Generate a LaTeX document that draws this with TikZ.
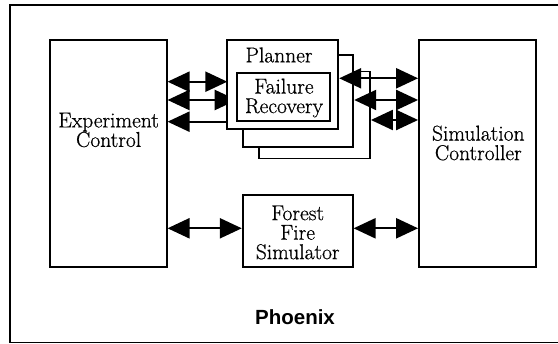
\documentclass[tikz,border=0pt]{standalone}
\usepackage{fontspec}
\newfontfamily\headfont{Liberation Sans}
\newfontfamily\lblfont{Latin Modern Roman}[FakeBold=0.6]
\usetikzlibrary{arrows.meta}
\begin{document}
\begin{tikzpicture}[x=1pt,y=-1pt,
  box/.style={draw, line width=1.8pt, fill=white, inner sep=0pt},
  lbl/.style={font=\lblfont\fontsize{21.5}{19.5}\selectfont, align=center, inner sep=0pt},
  link/.style={line width=2.3pt},
  head/.tip={Triangle[length=22pt,width=20pt]},
  both/.style={link, head-head},
  tohead/.style={link, -head}]
\useasboundingbox (0,0) rectangle (558,344);

% outer frame (right side runs off the page)
\draw[line width=1.8pt] (560,5) -- (10,5) -- (10,342.5) -- (560,342.5);

% main blocks
\node[box, minimum width=116.7pt, minimum height=227pt] (exp) at (108.3,153.5) {};
\node[box, minimum width=117pt, minimum height=227pt] (sim) at (477.5,153.5) {};
\node[box, minimum width=110pt, minimum height=72.3pt] (fire) at (297.7,231.2) {};

% stacked planner copies, back to front
\node[box, minimum width=110.7pt, minimum height=87pt] (plan3) at (314.7,115.1) {};
\node[box, minimum width=110.6pt, minimum height=92pt] (plan2) at (298,101) {};

% links from Experiment Control into the planner
\draw[both] (exp.east |- 0,81.7) -- (227.3,81.7) coordinate (pw1);
\draw[both] (exp.east |- 0,100) -- (236.7,100) coordinate (frw);
\draw[tohead] (227.3,121.7) coordinate (pw3) -- (exp.east |- 0,121.7);

% front planner with its failure recovery module
\node[box, minimum width=111pt, minimum height=89.3pt] (plan1) at (282.8,84.7) {};
\node[box, minimum width=93.3pt, minimum height=48pt] (fr) at (283.3,96.7) {};

% links from the planners to the Simulation Controller
\draw[both] (plan1.east |- 0,78.3) -- (sim.west |- 0,78.3);
\draw[both] (plan2.east |- 0,100) -- (sim.west |- 0,100);
\draw[both] (plan3.east |- 0,120) -- (sim.west |- 0,120);

% forest fire simulator links
\draw[both] (exp.east |- 0,228.3) -- (fire.west |- 0,228.3);
\draw[both] (fire.east |- 0,228.3) -- (sim.west |- 0,228.3);

% labels
\node[lbl] (texp) at (108.6,130) {Experiment\\Control};
\node[lbl] (tsim) at (478.3,143) {Simulation\\Controller};
\node[lbl] (tplan) at (279,55) {Planner};
\node[lbl] (tfr) at (284,98) {Failure\\Recovery};
\node[lbl] (tfire) at (297.7,232.5) {Forest\\Fire\\Simulator};
\node[anchor=base, inner sep=0pt, font=\headfont\bfseries\fontsize{20.5}{24}\selectfont] (tphx) at (295,325) {Phoenix};
\end{tikzpicture}
\end{document}
